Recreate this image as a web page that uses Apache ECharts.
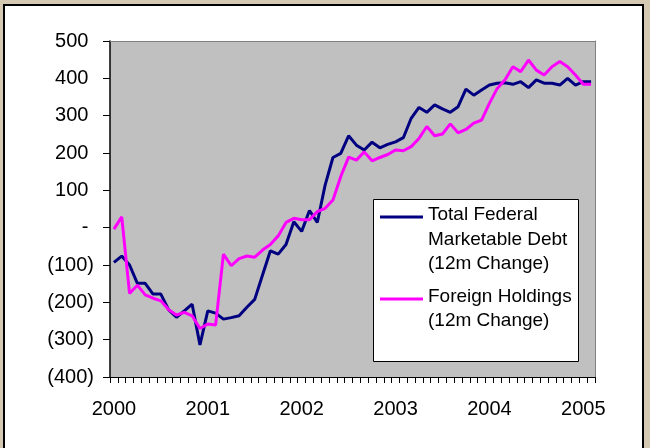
<!DOCTYPE html>
<html lang="en">
<head>
    <meta charset="UTF-8">
    <title>Federal Debt vs Foreign Holdings</title>
    <script src="https://cdn.jsdelivr.net/npm/echarts@6.0.0/dist/echarts.min.js"></script>
    <style>
        body { margin: 0; background: #d6c9b4; }
        #frame {
            position: absolute; left: 3px; top: 4px; width: 637px; height: 460px;
            background: #fff; border: 2px solid #000;
        }
        #myChart { position: absolute; left: 0; top: 0; width: 650px; height: 448px; }
    </style>
</head>
<body>
    <div id="frame"></div>
    <div id="myChart"></div>
    <script>
        // months Jan 2000 .. Feb 2005
        const months = [];
        for (let y = 2000; y <= 2005; y++) {
            for (let m = 1; m <= 12; m++) {
                if (y === 2005 && m > 2) break;
                months.push(y + '-' + (m < 10 ? '0' + m : m));
            }
        }

        // 12-month change, $bn
        const totalDebt = [
            -93, -76, -100, -149, -149, -178, -178, -220, -240, -223, -205, -314,
            -223, -229, -245, -241, -236, -213, -192, -127, -62, -71, -45, 16,
            -10, 46, 14, 114, 188, 199, 246, 221, 208, 229, 214, 223,
            230, 241, 293, 322, 309, 329, 318, 309, 324, 371, 355, 369,
            382, 387, 388, 384, 391, 375, 396, 387, 387, 382, 400, 382,
            391, 391
        ];
        const foreignHoldings = [
            -4, 29, -176, -154, -180, -189, -196, -220, -234, -227, -236, -270,
            -258, -261, -71, -102, -83, -76, -79, -60, -45, -22, 14, 25,
            21, 21, 43, 52, 74, 137, 189, 181, 203, 179, 188, 196,
            208, 206, 217, 239, 271, 246, 251, 278, 254, 263, 280, 288,
            333, 373, 396, 431, 418, 449, 422, 409, 431, 445, 431, 409,
            384, 384
        ];

        const legendNames = [
            ['Total Federal', 'Marketable Debt', '(12m Change)'],
            ['Foreign Holdings', '(12m Change)']
        ];
        const colors = ['#000080', '#ff00ff'];
        const font = '"Liberation Sans", Arial, sans-serif';

        const myChart = echarts.init(document.getElementById('myChart'));

        function yFmt(v) {
            if (v === 0) return '- ';
            if (v < 0) return '(' + (-v) + ')';
            return v + ' ';
        }

        // legend box drawn as graphic so the line sits on the first text row
        const legendGraphic = [{
            type: 'rect', z: 100,
            shape: { x: 373.5, y: 199.5, width: 205, height: 162 },
            style: { fill: '#fff', stroke: '#000', lineWidth: 1 }
        }];
        const rowY = [[215, 239.5, 264], [297, 321]];
        legendNames.forEach((rows, k) => {
            legendGraphic.push({
                type: 'line', z: 101,
                shape: { x1: 380, y1: rowY[k][0] + 2, x2: 423, y2: rowY[k][0] + 2 },
                style: { stroke: colors[k], lineWidth: 3 }
            });
            rows.forEach((t, j) => {
                legendGraphic.push({
                    type: 'text', z: 101,
                    x: 428, y: rowY[k][j],
                    style: {
                        text: t, fill: '#000', font: '19px ' + font,
                        verticalAlign: 'middle', align: 'left'
                    }
                });
            });
        });

        const option = {
            animation: false,
            grid: {
                left: 110, right: 55, top: 41, bottom: 71,
                show: false
            },
            xAxis: [{
                type: 'category',
                data: months,
                boundaryGap: true,
                axisLine: { show: true, onZero: false, lineStyle: { color: '#000', width: 1 } },
                axisTick: { show: true, interval: 0, length: 6, lineStyle: { color: '#000', width: 1 } },
                axisLabel: {
                    interval: 11,
                    margin: 22,
                    color: '#000',
                    fontSize: 20,
                    fontFamily: font,
                    formatter: v => v.slice(0, 4)
                },
                splitLine: { show: false }
            }, {
                // top edge of the plot frame
                type: 'category',
                position: 'top',
                data: months,
                axisLine: { show: true, onZero: false, lineStyle: { color: '#808080', width: 1 } },
                axisTick: { show: false },
                axisLabel: { show: false },
                splitLine: { show: false }
            }],
            yAxis: [{
                type: 'value',
                min: -400, max: 500, interval: 100,
                axisLine: { show: true, onZero: false, lineStyle: { color: '#000', width: 1.5 } },
                axisTick: { show: true, interval: 0, length: 7, lineStyle: { color: '#000', width: 1 } },
                axisLabel: {
                    margin: 16,
                    color: '#000',
                    fontSize: 20,
                    fontFamily: font,
                    formatter: yFmt
                },
                splitLine: { show: false },
                splitArea: { show: true, areaStyle: { color: ['#c0c0c0'] } }
            }, {
                // right edge of the plot frame
                type: 'value',
                position: 'right',
                min: -400, max: 500, interval: 100,
                axisLine: { show: true, onZero: false, lineStyle: { color: '#808080', width: 1 } },
                axisTick: { show: false },
                axisLabel: { show: false },
                splitLine: { show: false }
            }],
            series: [{
                name: 'Total Federal Marketable Debt (12m Change)',
                type: 'line',
                data: totalDebt,
                showSymbol: false,
                lineStyle: { color: colors[0], width: 3 },
                itemStyle: { color: colors[0] }
            }, {
                name: 'Foreign Holdings (12m Change)',
                type: 'line',
                data: foreignHoldings,
                showSymbol: false,
                lineStyle: { color: colors[1], width: 3 },
                itemStyle: { color: colors[1] }
            }],
            graphic: { elements: legendGraphic }
        };
        myChart.setOption(option);
    </script>
</body>
</html>
